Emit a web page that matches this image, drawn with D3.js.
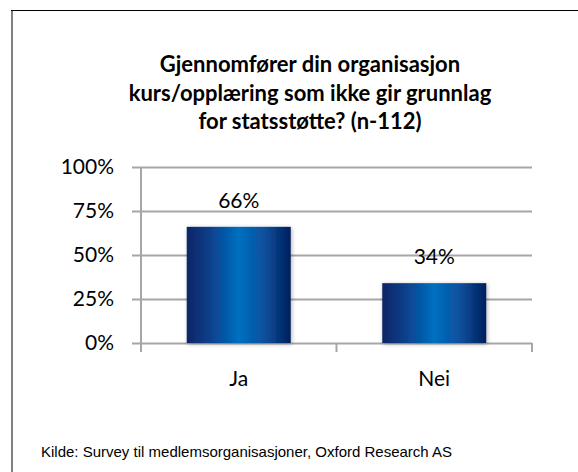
<!DOCTYPE html>
<html lang="no">
<head>
<meta charset="UTF-8">
<title>Gjennomfører din organisasjon kurs/opplæring</title>
<script src="https://d3js.org/d3.v7.min.js"></script>
<style>
  body { margin: 0; background: #fff; }
</style>
</head>
<body>
<svg width="578" height="472"></svg>
<script>
// data
var categories = ["Ja", "Nei"];
var values = [0.66, 0.34];
var yTicks = [0, 0.25, 0.5, 0.75, 1];
var titleLines = ["Gjennomfører din organisasjon", "kurs/opplæring som ikke gir grunnlag", "for statsstøtte? (n-112)"];
var source = "Kilde: Survey til medlemsorganisasjoner, Oxford Research AS";

var svg = d3.select("svg");

// frame (only left and top edges are inside the picture)
svg.append("line").attr("x1", 12).attr("y1", 10).attr("x2", 12).attr("y2", 472)
  .attr("stroke", "#808080").attr("stroke-width", 2);
svg.append("line").attr("x1", 11).attr("y1", 10.5).attr("x2", 578).attr("y2", 10.5)
  .attr("stroke", "#000").attr("stroke-width", 1);

// gradient + shadow for bars
var defs = svg.append("defs");
var grad = defs.append("linearGradient").attr("id", "barGrad")
  .attr("x1", "0%").attr("x2", "100%").attr("y1", "0%").attr("y2", "0%");
grad.append("stop").attr("offset", "0%").attr("stop-color", "#0b2566");
grad.append("stop").attr("offset", "22%").attr("stop-color", "#0a3f8a");
grad.append("stop").attr("offset", "50%").attr("stop-color", "#0070c0");
grad.append("stop").attr("offset", "75%").attr("stop-color", "#0a4f9c");
grad.append("stop").attr("offset", "100%").attr("stop-color", "#021f5c");

var shadow = defs.append("filter").attr("id", "shadow")
  .attr("x", "-20%").attr("y", "-20%").attr("width", "140%").attr("height", "140%");
shadow.append("feDropShadow").attr("dx", 1).attr("dy", 1).attr("stdDeviation", 2.2)
  .attr("flood-color", "#000").attr("flood-opacity", 0.3);

// title
svg.append("text")
  .attr("text-anchor", "middle")
  .style("font-family", "Lato, sans-serif")
  .style("font-weight", "bold")
  .style("font-size", "22px")
  .selectAll("tspan")
  .data(titleLines)
  .enter()
  .append("tspan")
  .attr("x", 310)
  .attr("y", function(d, i) { return 72 + i * 28.5; })
  .text(function(d) { return d; });

// plot area
var plotLeft = 141, plotRight = 532, plotTop = 167, plotBottom = 343;

var x = d3.scaleBand()
  .domain(categories)
  .range([plotLeft, plotRight])
  .paddingInner(0.468)
  .paddingOuter(0.234);

var y = d3.scaleLinear()
  .domain([0, 1])
  .range([plotBottom, plotTop]);

// y axis with gridlines
var yAxis = svg.append("g")
  .attr("transform", "translate(132,0)")
  .call(d3.axisLeft(y)
    .tickValues(yTicks)
    .tickSize(-(plotRight - 132))
    .tickPadding(18)
    .tickFormat(d3.format(".0%")));

yAxis.select(".domain").remove();
yAxis.selectAll(".tick line").attr("stroke", "#a6a6a6").attr("stroke-width", 2);
yAxis.selectAll(".tick text")
  .style("font-family", "Lato, sans-serif")
  .style("font-size", "21px")
  .attr("fill", "#000");

// vertical axis line and category boundary ticks
var step = x.step();
svg.append("g")
  .selectAll("line")
  .data(d3.range(categories.length + 1))
  .enter()
  .append("line")
  .attr("x1", function(i) { return plotLeft + i * step; })
  .attr("x2", function(i) { return plotLeft + i * step; })
  .attr("y1", function(i) { return i == 0 ? plotTop : plotBottom; })
  .attr("y2", plotBottom + 9)
  .attr("stroke", "#a6a6a6")
  .attr("stroke-width", 2);

// bars
svg.selectAll(".bar")
  .data(values)
  .enter()
  .append("rect")
  .attr("class", "bar")
  .attr("x", function(d, i) { return x(categories[i]); })
  .attr("y", function(d) { return y(d); })
  .attr("width", x.bandwidth())
  .attr("height", function(d) { return plotBottom - y(d); })
  .attr("fill", "url(#barGrad)")
  .attr("filter", "url(#shadow)");

// value labels
svg.selectAll(".val")
  .data(values)
  .enter()
  .append("text")
  .attr("class", "val")
  .attr("x", function(d, i) { return x(categories[i]) + x.bandwidth() / 2; })
  .attr("y", function(d) { return y(d) - 19; })
  .attr("text-anchor", "middle")
  .style("font-family", "Lato, sans-serif")
  .style("font-size", "21px")
  .text(function(d) { return Math.round(d * 100) + "%"; });

// category labels
svg.selectAll(".cat")
  .data(categories)
  .enter()
  .append("text")
  .attr("class", "cat")
  .attr("x", function(d) { return x(d) + x.bandwidth() / 2; })
  .attr("y", 386)
  .attr("text-anchor", "middle")
  .style("font-family", "Lato, sans-serif")
  .style("font-size", "21px")
  .text(function(d) { return d; });

// source
svg.append("text")
  .attr("x", 41)
  .attr("y", 457)
  .style("font-family", "'Liberation Sans', Arial, sans-serif")
  .style("font-size", "15px")
  .text(source);
</script>
</body>
</html>
